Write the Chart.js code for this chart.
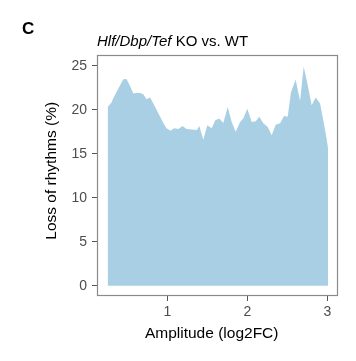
<!DOCTYPE html>
<html>
<head>
<meta charset="utf-8">
<script src="https://cdn.jsdelivr.net/npm/chart.js@4"></script>
<style>
html,body{margin:0;padding:0;background:#fff;}
#wrap{width:356px;height:361px;position:relative;}
</style>
</head>
<body>
<div id="wrap"><canvas id="c" width="356" height="361"></canvas></div>
<script>
const amplitude = [0.254,0.30,0.325,0.388,0.45,0.49,0.534,0.575,0.61,0.66,0.70,0.74,0.785,0.825,0.888,0.95,0.99,1.04,1.085,1.14,1.19,1.24,1.30,1.37,1.40,1.45,1.50,1.555,1.60,1.65,1.70,1.755,1.805,1.855,1.91,1.95,2.0,2.055,2.105,2.15,2.20,2.255,2.305,2.355,2.41,2.46,2.505,2.546,2.605,2.66,2.705,2.755,2.805,2.855,2.91,2.95,2.99,3.01];
const lossPct = [20.3,20.8,21.3,22.4,23.45,23.5,22.7,21.85,21.9,21.9,21.75,21.2,21.4,20.7,19.6,18.5,17.9,17.6,17.9,17.8,18.15,17.8,17.75,17.7,18.15,16.6,18.25,17.9,18.8,19.0,18.5,20.3,18.6,17.5,18.6,19.0,20.1,18.6,18.7,19.2,18.45,18.05,17.1,18.3,18.45,19.3,19.2,22.0,23.4,21.0,24.9,22.8,20.5,21.4,20.7,18.8,16.8,15.6];
const xTicks = [1,2,3];
const yTicks = [0,5,10,15,20,25];
const titleItalic = "Hlf/Dbp/Tef";
const titleRest = " KO vs. WT";
const panelLabel = "C";
const xTitle = "Amplitude (log2FC)";
const yTitle = "Loss of rhythms (%)";

const FONT = "'Liberation Sans', Arial, Helvetica, sans-serif";
const points = amplitude.map((a,i)=>({x:a,y:lossPct[i]}));

const decor = {
  id:'decor',
  afterDraw(chart){
    const ctx = chart.ctx, a = chart.chartArea;
    ctx.save();
    ctx.strokeStyle = '#8a8a8a';
    ctx.lineWidth = 1.2;
    ctx.strokeRect(a.left+0.5, a.top+0.5, a.right-a.left-1, a.bottom-a.top-1);
    ctx.fillStyle = '#000';
    ctx.textBaseline = 'alphabetic';
    ctx.textAlign = 'left';
    ctx.font = "bold 17px " + FONT;
    ctx.fillText(panelLabel, 22, 33.5);
    ctx.font = "italic 15px " + FONT;
    const x0 = 97;
    ctx.fillText(titleItalic, x0, 45.5);
    const w = ctx.measureText(titleItalic).width;
    ctx.font = "15px " + FONT;
    ctx.fillText(titleRest, x0 + w, 45.5);
    // axis titles
    ctx.font = "15.5px " + FONT;
    ctx.textAlign = 'center';
    ctx.fillText(xTitle, 211.7, 337.5);
    ctx.translate(55.5, 170.8);
    ctx.rotate(-Math.PI/2);
    ctx.fillText(yTitle, 0, 0);
    ctx.restore();
  }
};

new Chart(document.getElementById('c'), {
  type: 'line',
  data: {
    datasets: [{
      data: points,
      fill: 'origin',
      backgroundColor: '#a8cfe3',
      borderWidth: 0,
      borderColor: 'rgba(0,0,0,0)',
      pointRadius: 0,
      tension: 0
    }]
  },
  options: {
    responsive: false,
    animation: false,
    devicePixelRatio: 1,
    layout: { padding: { left: 0, top: 55, right: 18, bottom: 0 } },
    plugins: { legend: { display: false }, tooltip: { enabled: false }, title: { display: false } },
    scales: {
      x: {
        type: 'linear',
        min: 0.121, max: 3.134,
        afterBuildTicks: s => { s.ticks = xTicks.map(v => ({ value: v })); },
        afterFit: s => { s.height = 65; },
        grid: { drawOnChartArea: false, drawTicks: true, tickLength: 5, color: '#555', lineWidth: 1 },
        border: { display: false },
        ticks: { color: '#4d4d4d', font: { family: FONT, size: 14 }, padding: 3, maxRotation: 0 },
        title: { display: false }
      },
      y: {
        type: 'linear',
        min: -1.17, max: 26.22,
        afterBuildTicks: s => { s.ticks = yTicks.map(v => ({ value: v })); },
        afterFit: s => { s.width = 97; },
        grid: { drawOnChartArea: false, drawTicks: true, tickLength: 5, color: '#555', lineWidth: 1 },
        border: { display: false },
        ticks: { color: '#4d4d4d', font: { family: FONT, size: 14 }, padding: 5 },
        title: { display: false }
      }
    }
  },
  plugins: [decor]
});
</script>
</body>
</html>
